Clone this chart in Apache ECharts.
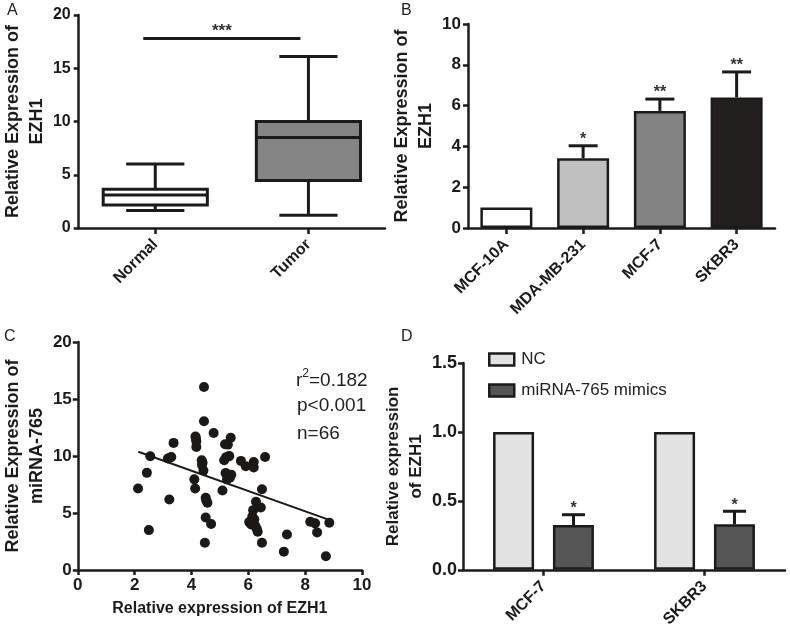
<!DOCTYPE html>
<html><head><meta charset="utf-8">
<script src="https://cdn.jsdelivr.net/npm/echarts@6/dist/echarts.min.js"></script>
<style>html,body{margin:0;padding:0;background:#fff}#c{width:790px;height:630px}</style>
</head><body><div id="c"></div>
<script>
// ---- Panel A: box plot ----
const boxCategories = ['Normal', 'Tumor'];
// [min, q1, median, q3, max]
const boxStats = [[1.65, 2.15, 3.1, 3.65, 6.0], [1.2, 4.45, 8.5, 10.0, 16.1]];
const boxSigLabel = '***';
const boxSigY = 17.8;

// ---- Panel B: bar chart ----
const cellLines = ['MCF-10A', 'MDA-MB-231', 'MCF-7', 'SKBR3'];
const cellMeans = [1.0, 3.42, 5.74, 6.4];
const cellErrTop = [null, 4.03, 6.32, 7.65];
const cellStars = ['', '*', '**', '**'];

// ---- Panel C: scatter ----
const scatterX = [2.12,2.43,2.55,2.50,3.17,3.29,3.22,3.37,4.44,4.44,4.78,4.14,4.17,4.17,5.38,5.18,5.28,4.36,4.37,4.42,
  5.22,5.15,5.30,5.74,5.91,6.19,6.19,6.59,5.20,5.30,5.40,5.25,4.10,4.13,5.09,6.48,4.50,4.56,6.27,6.44,
  6.17,6.14,6.03,4.50,4.69,6.25,6.33,4.47,6.48,7.36,7.25,8.18,8.35,8.42,8.85,8.73,
  4.16,4.39,5.33,6.21,5.35,6.10,3.24,4.52,5.27,6.30];
const scatterY = [7.15,8.52,9.98,3.50,9.78,9.92,6.19,11.15,16.05,13.05,12.02,11.70,11.30,10.80,11.60,11.03,11.00,9.63,9.22,8.72,
  9.90,9.63,9.95,9.57,9.10,9.48,9.00,9.92,8.50,8.20,8.35,7.95,7.95,7.15,6.98,7.09,6.33,5.90,5.98,5.49,
  5.25,4.70,4.20,4.60,4.03,3.85,3.36,2.39,2.39,3.12,1.61,4.23,4.09,3.30,4.15,1.20,
  11.50,9.40,10.00,4.45,8.10,4.00,9.85,6.10,8.40,3.60];
const fitX = [2.13, 8.87];
const fitY = [10.37, 4.38];
const statsLines = ['p<0.001', 'n=66'];

// ---- Panel D: grouped bars ----
const dCategories = ['MCF-7', 'SKBR3'];
const ncValues = [1.0, 1.0];
const mimicsValues = [0.325, 0.33];
const mimicsErrTop = [0.40, 0.425];
const mimicsStars = ['*', '*'];

const FONT = "'Liberation Sans', Arial, sans-serif";
const INK = '#1d1a1a';

function axisStyle(extra, labelSize, labelMargin) {
  return Object.assign({
    axisLine: { show: true, lineStyle: { color: INK, width: 2.5 } },
    axisTick: { show: true, length: 5, lineStyle: { color: INK, width: 2.5 } },
    axisLabel: { color: INK, fontFamily: FONT, fontWeight: 'bold', fontSize: labelSize || 16, margin: labelMargin || 8 },
    splitLine: { show: false },
    nameTextStyle: { color: INK, fontFamily: FONT, fontWeight: 'bold', fontSize: 18, lineHeight: 24 }
  }, extra);
}
function catAxis(grid, data) {
  const a = axisStyle({ type: 'category', gridIndex: grid, data: data });
  a.axisTick = { show: true, alignWithLabel: true, length: 6, lineStyle: { color: INK, width: 2.5 } };
  a.axisLabel = Object.assign({}, a.axisLabel, { rotate: 45, margin: 14, fontSize: 16 });
  return a;
}

function errRender(capW, dx, stars) {
  return function (params, api) {
    const c = api.value(0), v = api.value(1), t = api.value(2);
    if (isNaN(t)) return null;
    const p0 = api.coord([c, v]), p1 = api.coord([c, t]);
    const x = p0[0] + dx;
    const st = { stroke: INK, lineWidth: 3 };
    return { type: 'group', children: [
      { type: 'line', shape: { x1: x, y1: p0[1], x2: x, y2: p1[1] }, style: st },
      { type: 'line', shape: { x1: x - capW / 2, y1: p1[1], x2: x + capW / 2, y2: p1[1] }, style: st },
      { type: 'text', x: x, y: p1[1] + 2, style: { text: stars[params.dataIndex], fill: '#333', font: 'bold 16px ' + FONT, align: 'center', verticalAlign: 'bottom' } }
    ] };
  };
}

const boxFill = ['#ffffff', '#858585'];

const option = {
  animation: false,
  backgroundColor: '#fff',
  grid: [
    { left: 68, top: 15, width: 317, height: 213 },
    { left: 468, top: 24, width: 307, height: 204 },
    { left: 68, top: 342, width: 294, height: 228 },
    { left: 463, top: 363, width: 322, height: 207 }
  ],
  xAxis: [
    catAxis(0, boxCategories),
    catAxis(1, cellLines),
    axisStyle({ type: 'value', gridIndex: 2, min: 0, max: 10, interval: 2,
      name: 'Relative expression of EZH1', nameLocation: 'middle', nameGap: 31,
      nameTextStyle: { color: INK, fontFamily: FONT, fontWeight: 'bold', fontSize: 16 } }, 17, 7),
    catAxis(3, dCategories)
  ],
  yAxis: [
    axisStyle({ type: 'value', gridIndex: 0, min: 0, max: 20, interval: 5,
      name: 'Relative Expression of\nEZH1', nameLocation: 'middle', nameGap: 22 }, 16, 8),
    axisStyle({ type: 'value', gridIndex: 1, min: 0, max: 10, interval: 2,
      name: 'Relative Expression of\nEZH1', nameLocation: 'middle', nameGap: 20 }, 17, 7),
    axisStyle({ type: 'value', gridIndex: 2, min: 0, max: 20, interval: 5,
      name: 'Relative Expression of\nmiRNA-765', nameLocation: 'middle', nameGap: 21 }, 17, 6),
    axisStyle({ type: 'value', gridIndex: 3, min: 0, max: 1.5, interval: 0.5,
      name: 'Relative expression\nof EZH1', nameLocation: 'middle', nameGap: 18,
      nameTextStyle: { color: INK, fontFamily: FONT, fontWeight: 'bold', fontSize: 17, lineHeight: 23 } }, 18, 6)
  ],
  legend: {
    left: 483, top: 346, orient: 'vertical', itemWidth: 25, itemHeight: 12, itemGap: 14,
    icon: 'rect',
    data: ['NC', 'miRNA-765 mimics'],
    itemStyle: { borderColor: INK, borderWidth: 2.5 },
    textStyle: { color: '#222', fontFamily: FONT, fontSize: 17, padding: [0, 0, 0, 2] }
  },
  graphic: [
    { type: 'text', left: 7, top: 3, style: { text: 'A', font: '16px ' + FONT, fill: '#222' } },
    { type: 'text', left: 401, top: 3, style: { text: 'B', font: '16px ' + FONT, fill: '#222' } },
    { type: 'text', left: 4, top: 329, style: { text: 'C', font: '16px ' + FONT, fill: '#222' } },
    { type: 'text', left: 401, top: 329, style: { text: 'D', font: '16px ' + FONT, fill: '#222' } },
    { type: 'text', left: 296, top: 368, style: { text: '{n|r}{s|2}{n|=0.182}', rich: {
      n: { font: '19px ' + FONT, fill: '#222', verticalAlign: 'bottom', lineHeight: 22 },
      s: { font: '12px ' + FONT, fill: '#222', verticalAlign: 'top', lineHeight: 22, padding: [0, 0, 10, 0] } } } },
    { type: 'text', left: 297, top: 396, style: { text: statsLines[0], font: '19px ' + FONT, fill: '#222' } },
    { type: 'text', left: 297, top: 424, style: { text: statsLines[1], font: '19px ' + FONT, fill: '#222' } }
  ],
  series: [
    // Panel A boxes
    {
      type: 'custom', xAxisIndex: 0, yAxisIndex: 0,
      data: boxStats.map((s, i) => [i].concat(s)),
      encode: { x: 0, y: [1, 5] },
      renderItem: function (params, api) {
        const i = api.value(0);
        const mn = api.value(1), q1 = api.value(2), md = api.value(3), q3 = api.value(4), mx = api.value(5);
        const band = api.size([1, 0])[0];
        const bw = band * 0.68, cw = band * 0.38;
        const x = api.coord([i, 0])[0];
        const y = v => api.coord([i, v])[1];
        const st = { stroke: INK, lineWidth: 3 };
        return { type: 'group', children: [
          { type: 'line', shape: { x1: x, y1: y(mn), x2: x, y2: y(q1) }, style: st },
          { type: 'line', shape: { x1: x, y1: y(q3), x2: x, y2: y(mx) }, style: st },
          { type: 'line', shape: { x1: x - cw / 2, y1: y(mn), x2: x + cw / 2, y2: y(mn) }, style: st },
          { type: 'line', shape: { x1: x - cw / 2, y1: y(mx), x2: x + cw / 2, y2: y(mx) }, style: st },
          { type: 'rect', shape: { x: x - bw / 2, y: y(q3), width: bw, height: y(q1) - y(q3) }, style: { fill: boxFill[i], stroke: INK, lineWidth: 3 } },
          { type: 'line', shape: { x1: x - bw / 2, y1: y(md), x2: x + bw / 2, y2: y(md) }, style: st }
        ] };
      }
    },
    // Panel A significance bar
    {
      type: 'custom', xAxisIndex: 0, yAxisIndex: 0,
      data: [[0, 1, boxSigY]],
      renderItem: function (params, api) {
        const a = api.coord([api.value(0), api.value(2)]);
        const b = api.coord([api.value(1), api.value(2)]);
        const x1 = a[0] - 12, x2 = b[0] - 8;
        return { type: 'group', children: [
          { type: 'line', shape: { x1: x1, y1: a[1], x2: x2, y2: a[1] }, style: { stroke: INK, lineWidth: 3 } },
          { type: 'text', x: (x1 + x2) / 2, y: a[1] + 1, style: { text: boxSigLabel, fill: '#333', font: 'bold 17px ' + FONT, align: 'center', verticalAlign: 'bottom' } }
        ] };
      }
    },
    // Panel B bars
    {
      type: 'bar', xAxisIndex: 1, yAxisIndex: 1, barWidth: 52,
      data: cellMeans.map((v, i) => ({ value: v, itemStyle: { color: ['#ffffff', '#c0c0c0', '#838383', '#231f1e'][i] } })),
      itemStyle: { borderColor: INK, borderWidth: 2.5 }
    },
    {
      type: 'custom', xAxisIndex: 1, yAxisIndex: 1, z: 1,
      data: cellMeans.map((v, i) => [i, v, cellErrTop[i] == null ? NaN : cellErrTop[i]]),
      renderItem: errRender(29, 0, cellStars)
    },
    // Panel C scatter + fit
    {
      type: 'scatter', xAxisIndex: 2, yAxisIndex: 2, symbolSize: 10,
      itemStyle: { color: '#1c1816', opacity: 1 },
      data: scatterX.map((x, i) => [x, scatterY[i]])
    },
    {
      type: 'line', xAxisIndex: 2, yAxisIndex: 2, symbol: 'none',
      lineStyle: { color: INK, width: 2 },
      data: fitX.map((x, i) => [x, fitY[i]])
    },
    // Panel D bars
    {
      name: 'NC', type: 'bar', xAxisIndex: 3, yAxisIndex: 3, barWidth: 41, barGap: '46%',
      itemStyle: { color: '#e2e2e2', borderColor: INK, borderWidth: 2.5 },
      data: ncValues
    },
    {
      name: 'miRNA-765 mimics', type: 'bar', xAxisIndex: 3, yAxisIndex: 3, barWidth: 41,
      itemStyle: { color: '#555555', borderColor: INK, borderWidth: 2.5 },
      data: mimicsValues
    },
    {
      type: 'custom', xAxisIndex: 3, yAxisIndex: 3, z: 1,
      data: mimicsValues.map((v, i) => [i, v, mimicsErrTop[i]]),
      renderItem: errRender(23, 30, mimicsStars)
    }
  ]
};
// y-axis labels for panel D show one decimal
option.yAxis[3].axisLabel.formatter = v => v.toFixed(1);
const chart = echarts.init(document.getElementById('c'), null, { renderer: 'canvas' });
chart.setOption(option);
</script></body></html>
